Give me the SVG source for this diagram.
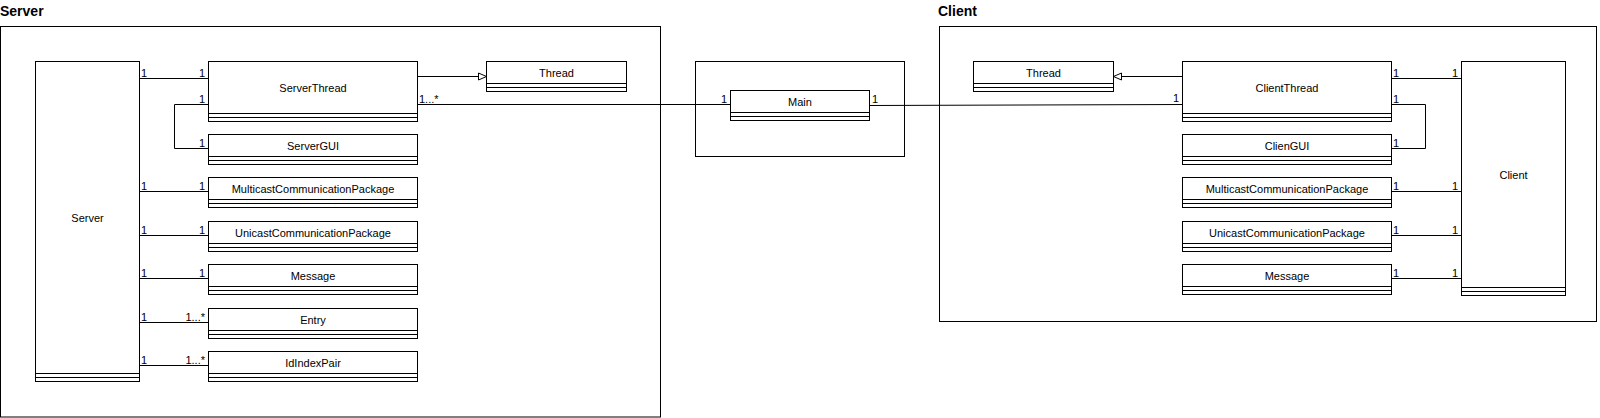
<svg xmlns="http://www.w3.org/2000/svg" width="1600" height="418" viewBox="0 0 1600 418">
<style>
.frame{fill:none;stroke:#000;stroke-width:1}
.box{fill:#fff;stroke:#000;stroke-width:1}
.sep{stroke:#000;stroke-width:1;fill:none}
.name{font-family:"Liberation Sans",Arial,sans-serif;font-size:11px;fill:#000;text-anchor:middle;dominant-baseline:central}
.title{font-family:"Liberation Sans",Arial,sans-serif;font-size:14px;font-weight:bold;fill:#000}
.edge{fill:none;stroke:#000;stroke-width:1}
.lbl{font-family:"Liberation Sans",Arial,sans-serif;font-size:11px;fill:#000}
.end{text-anchor:end}
</style>
<defs>
<marker id="inh" viewBox="0 0 8 7" refX="8" refY="3.5" markerWidth="8" markerHeight="7" orient="auto" markerUnits="userSpaceOnUse" overflow="visible">
<path d="M0,0 L8,3.5 L0,7 Z" fill="#fff" stroke="#000" stroke-width="1"/>
</marker>
</defs>
<rect width="1600" height="418" fill="#fff"/>

<g id="pkg-server">
<rect class="frame" x="0.5" y="26.5" width="660" height="390.5"/>
<text class="title" x="0" y="15.5">Server</text>
</g>
<g id="pkg-client">
<rect class="frame" x="939.5" y="26.5" width="657" height="295"/>
<text class="title" x="938" y="15.5">Client</text>
</g>
<g id="pkg-main">
<rect class="frame" x="695.5" y="61.5" width="209" height="95"/>
</g>

<g id="connectors">
<path class="edge" d="M139.5,78.5 H208.5"/>
<path class="edge" d="M208.5,104.5 H174.5 V148.5 H208.5"/>
<path class="edge" d="M139.5,191.5 H208.5"/>
<path class="edge" d="M139.5,235.5 H208.5"/>
<path class="edge" d="M139.5,278.5 H208.5"/>
<path class="edge" d="M139.5,322.5 H208.5"/>
<path class="edge" d="M139.5,365.5 H208.5"/>
<path class="edge" d="M417.5,76.5 H486.5" marker-end="url(#inh)"/>
<path class="edge" d="M417.5,104.5 H730.5"/>
<path class="edge" d="M869.5,105.5 L1182.5,104.5"/>
<path class="edge" d="M1182.5,76.5 H1113.5" marker-end="url(#inh)"/>
<path class="edge" d="M1391.5,78.5 H1461.5"/>
<path class="edge" d="M1391.5,104.5 H1425.5 V148.5 H1391.5"/>
<path class="edge" d="M1391.5,191.5 H1461.5"/>
<path class="edge" d="M1391.5,235.5 H1461.5"/>
<path class="edge" d="M1391.5,278.5 H1461.5"/>

<text class="lbl" x="141" y="76.5">1</text>
<text class="lbl" x="141" y="189.5">1</text>
<text class="lbl" x="141" y="233.5">1</text>
<text class="lbl" x="141" y="276.5">1</text>
<text class="lbl" x="141" y="320.5">1</text>
<text class="lbl" x="141" y="363.5">1</text>
<text class="lbl end" x="205" y="76.5">1</text>
<text class="lbl end" x="205" y="102.5">1</text>
<text class="lbl end" x="205" y="146.5">1</text>
<text class="lbl end" x="205" y="189.5">1</text>
<text class="lbl end" x="205" y="233.5">1</text>
<text class="lbl end" x="205" y="276.5">1</text>
<text class="lbl end" x="205" y="320.5">1...*</text>
<text class="lbl end" x="205" y="363.5">1...*</text>
<text class="lbl" x="419" y="102.5">1...*</text>
<text class="lbl end" x="727" y="103">1</text>
<text class="lbl" x="872" y="103">1</text>
<text class="lbl end" x="1179" y="102">1</text>
<text class="lbl" x="1393" y="76.5">1</text>
<text class="lbl" x="1393" y="102.5">1</text>
<text class="lbl" x="1393" y="146.5">1</text>
<text class="lbl" x="1393" y="189.5">1</text>
<text class="lbl" x="1393" y="233.5">1</text>
<text class="lbl" x="1393" y="276.5">1</text>
<text class="lbl end" x="1458" y="76.5">1</text>
<text class="lbl end" x="1458" y="189.5">1</text>
<text class="lbl end" x="1458" y="233.5">1</text>
<text class="lbl end" x="1458" y="276.5">1</text>
</g>

<g id="Server">
<rect class="box" x="35.5" y="61.5" width="104" height="320"/>
<path class="sep" d="M35.5,373.5 H139.5 M35.5,377.5 H139.5"/>
<text class="name" x="87.5" y="217.5">Server</text>
</g>
<g id="ServerThread">
<rect class="box" x="208.5" y="61.5" width="209" height="60"/>
<path class="sep" d="M208.5,113.5 H417.5 M208.5,117.5 H417.5"/>
<text class="name" x="313" y="87.5">ServerThread</text>
</g>
<g id="ServerGUI">
<rect class="box" x="208.5" y="134.5" width="209" height="30"/>
<path class="sep" d="M208.5,156.5 H417.5 M208.5,160.5 H417.5"/>
<text class="name" x="313" y="145.5">ServerGUI</text>
</g>
<g id="S-Multicast">
<rect class="box" x="208.5" y="177.5" width="209" height="30"/>
<path class="sep" d="M208.5,199.5 H417.5 M208.5,203.5 H417.5"/>
<text class="name" x="313" y="188.5">MulticastCommunicationPackage</text>
</g>
<g id="S-Unicast">
<rect class="box" x="208.5" y="221.5" width="209" height="30"/>
<path class="sep" d="M208.5,243.5 H417.5 M208.5,247.5 H417.5"/>
<text class="name" x="313" y="232.5">UnicastCommunicationPackage</text>
</g>
<g id="S-Message">
<rect class="box" x="208.5" y="264.5" width="209" height="30"/>
<path class="sep" d="M208.5,286.5 H417.5 M208.5,290.5 H417.5"/>
<text class="name" x="313" y="275.5">Message</text>
</g>
<g id="Entry">
<rect class="box" x="208.5" y="308.5" width="209" height="30"/>
<path class="sep" d="M208.5,330.5 H417.5 M208.5,334.5 H417.5"/>
<text class="name" x="313" y="319.5">Entry</text>
</g>
<g id="IdIndexPair">
<rect class="box" x="208.5" y="351.5" width="209" height="30"/>
<path class="sep" d="M208.5,373.5 H417.5 M208.5,377.5 H417.5"/>
<text class="name" x="313" y="362.5">IdIndexPair</text>
</g>
<g id="S-Thread">
<rect class="box" x="486.5" y="61.5" width="140" height="30"/>
<path class="sep" d="M486.5,83.5 H626.5 M486.5,87.5 H626.5"/>
<text class="name" x="556.5" y="72.5">Thread</text>
</g>
<g id="Main">
<rect class="box" x="730.5" y="90.5" width="139" height="30"/>
<path class="sep" d="M730.5,112.5 H869.5 M730.5,116.5 H869.5"/>
<text class="name" x="800" y="101.5">Main</text>
</g>
<g id="C-Thread">
<rect class="box" x="973.5" y="61.5" width="140" height="30"/>
<path class="sep" d="M973.5,83.5 H1113.5 M973.5,87.5 H1113.5"/>
<text class="name" x="1043.5" y="72.5">Thread</text>
</g>
<g id="ClientThread">
<rect class="box" x="1182.5" y="61.5" width="209" height="60"/>
<path class="sep" d="M1182.5,113.5 H1391.5 M1182.5,117.5 H1391.5"/>
<text class="name" x="1287" y="87.5">ClientThread</text>
</g>
<g id="ClienGUI">
<rect class="box" x="1182.5" y="134.5" width="209" height="30"/>
<path class="sep" d="M1182.5,156.5 H1391.5 M1182.5,160.5 H1391.5"/>
<text class="name" x="1287" y="145.5">ClienGUI</text>
</g>
<g id="C-Multicast">
<rect class="box" x="1182.5" y="177.5" width="209" height="30"/>
<path class="sep" d="M1182.5,199.5 H1391.5 M1182.5,203.5 H1391.5"/>
<text class="name" x="1287" y="188.5">MulticastCommunicationPackage</text>
</g>
<g id="C-Unicast">
<rect class="box" x="1182.5" y="221.5" width="209" height="30"/>
<path class="sep" d="M1182.5,243.5 H1391.5 M1182.5,247.5 H1391.5"/>
<text class="name" x="1287" y="232.5">UnicastCommunicationPackage</text>
</g>
<g id="C-Message">
<rect class="box" x="1182.5" y="264.5" width="209" height="30"/>
<path class="sep" d="M1182.5,286.5 H1391.5 M1182.5,290.5 H1391.5"/>
<text class="name" x="1287" y="275.5">Message</text>
</g>
<g id="Client">
<rect class="box" x="1461.5" y="61.5" width="104" height="234"/>
<path class="sep" d="M1461.5,287.5 H1565.5 M1461.5,291.5 H1565.5"/>
<text class="name" x="1513.5" y="174.5">Client</text>
</g>
</svg>
